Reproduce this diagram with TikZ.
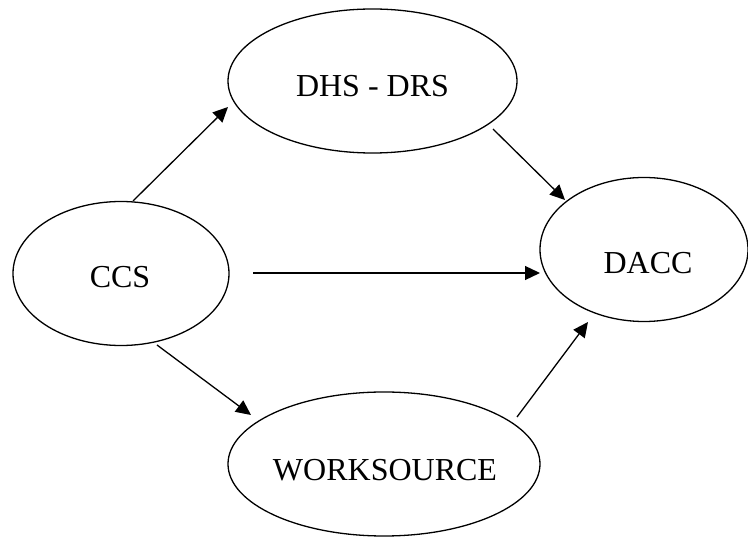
\documentclass[tikz,border=0pt]{standalone}
\usepackage{fontspec}
\setmainfont{Liberation Serif}
\usetikzlibrary{shapes.geometric,arrows.meta}
\begin{document}
\begin{tikzpicture}[x=1pt,y=-1pt,
  oval/.style={ellipse,draw,line width=1.3pt,inner sep=0pt,minimum height=144pt},
  lbl/.style={inner sep=0pt,font=\fontsize{32}{38}\selectfont},
  conn/.style={line width=1.3pt,-{Triangle[length=15pt,width=14pt]}}]
\useasboundingbox (0,0) rectangle (748,537);
\node[oval,minimum width=289pt] (dhs) at (372.5,81) {};
\node[oval,minimum width=216pt] (ccs) at (121,273.5) {};
\node[oval,minimum width=208pt] (dacc) at (644,249.5) {};
\node[oval,minimum width=312pt] (work) at (384,464) {};
\node[lbl] (dhst) at (372.5,86) {DHS - DRS};
\node[lbl] (ccst) at (120,277.5) {CCS};
\node[lbl] (dacct) at (648,263) {DACC};
\node[lbl] (workt) at (385,470) {WORKSOURCE};
\coordinate (a1) at (133,201); \coordinate (b1) at (228,107);
\coordinate (a2) at (493,129); \coordinate (b2) at (565,200);
\coordinate (a3) at (253,273); \coordinate (b3) at (540,273);
\coordinate (a4) at (157,345); \coordinate (b4) at (251,415);
\coordinate (a5) at (517,417); \coordinate (b5) at (588,322);
\draw[conn] (a1) -- (b1);
\draw[conn] (a2) -- (b2);
\draw[conn] (a3) -- (b3);
\draw[conn] (a4) -- (b4);
\draw[conn] (a5) -- (b5);
\end{tikzpicture}
\end{document}
